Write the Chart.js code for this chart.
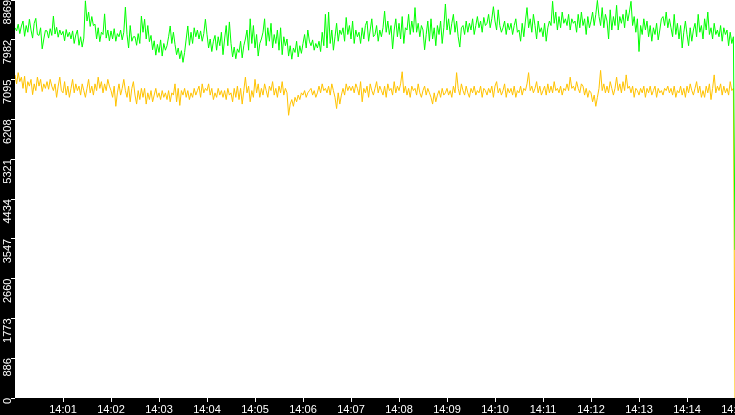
<!DOCTYPE html>
<html>
<head>
<meta charset="utf-8">
<script src="https://cdn.jsdelivr.net/npm/chart.js@4/dist/chart.umd.min.js"></script>
<style>
  html, body { margin: 0; padding: 0; background: #000; overflow: hidden; }
  #wrap { position: relative; width: 735px; height: 415px; }
  canvas { background: #000; }
</style>
</head>
<body>
<div id="wrap"><canvas id="c"></canvas></div>
<script>
// ---- data ----
const sampleSeconds = 2; // one sample every 2 s, starting 14:00:00
const xTickSeconds = [60,120,180,240,300,360,420,480,540,600,660,720,780,840,900];
const xTickLabels = ['14:01','14:02','14:03','14:04','14:05','14:06','14:07','14:08','14:09','14:10','14:11','14:12','14:13','14:14','14:15'];
const yTickValues = [0,886,1773,2660,3547,4434,5321,6208,7095,7982,8869];

const greenValues = [
8250,8180,8330,8120,8290, 8400,8060,8300,8150,8440, 8200,8020,8350,8460,8100, 8080,8250,7780,8000,8190,
8180,8020,8230,8080,8510, 8110,8260,8040,8200,8090, 8170,7960,8210,8050,8150, 8000,8180,7900,8090,8200,
7860,8050,7820,8020,8850, 8400,8600,8280,8500,8300, 8330,8000,8250,7940,8150, 8100,8560,8020,8200,7960,
8180,8000,8230,7950,8120, 8050,8200,7980,8150,8710, 8100,7800,8300,7950,8050, 8050,7860,8120,7900,8510,
8150,8440,8000,8300,7940, 8080,7760,7960,7640,7880, 7700,7980,7620,7900,7750, 7850,8050,8290,7900,8150,
7880,7650,7800,7560,7740, 7480,7700,8000,8290,7860, 8150,7900,8250,8050,8200, 8000,8180,7950,8120,8440,
8100,7800,8000,7720,7950, 8080,7750,8050,7850,8150, 7650,8000,8300,7850,8380, 7900,7600,7820,7560,7780,
7700,7950,7580,7850,8000, 8200,7750,8450,7900,8300, 7800,8100,7620,7900,8000, 8150,8450,7850,8250,7950,
8350,7800,8100,7900,8200, 7750,8250,7650,8050,7850, 8000,7620,7850,7550,7800, 7700,7950,7600,7850,7680,
7900,8100,7800,8200,7950, 7850,7980,7750,7900,7800, 7950,7720,8150,7850,8550, 7800,8600,7900,8200,7750,
8050,8350,7950,8200,8100, 8250,7950,8480,8100,8300, 8000,8400,7900,8200,8050, 8150,7900,8250,8000,8300,
8400,7950,8200,8450,8050, 8100,8300,7950,8200,8050, 8250,8620,8150,8400,8100, 8300,7780,8200,8450,8050,
8350,8000,8500,7900,8250, 8200,8550,8100,8400,8150, 8700,8150,8350,8050,8300, 8200,7760,8100,8400,7950,
8450,8000,8250,7850,8300, 8100,8400,7900,8250,8780, 8200,8450,8100,8350,8550, 8150,8400,8050,7820,8250,
8300,8100,8400,8150,8350, 8200,8450,8100,8300,8500, 8250,8400,8150,8480,8300, 8350,8550,8250,8450,8720,
8400,8200,8650,8300,8150, 8250,8400,8100,8350,8200, 8350,8100,8300,8450,8150, 8200,7950,8350,8050,8400,
8700,8250,8450,8150,8550, 8300,8000,8400,8150,8250, 8050,8350,7950,8250,8400, 8300,8840,8350,8600,8200,
8500,8250,8600,8350,8450, 8300,8550,8200,8450,8350, 8400,8150,8550,8250,8600, 8300,8450,8100,8500,8250,
8400,8600,8300,8550,8860, 8500,8300,8700,8250,8550, 8400,8000,8650,8200,8500, 8300,8750,8200,8500,8350,
8550,8250,8650,8400,8600, 8840,8300,8500,8150,8450, 7720,8300,8100,8450,8200, 8400,8050,8300,7950,8250,
8100,8350,7980,8200,8450, 8500,8300,8600,8250,8450, 8250,8050,8550,8100,8350, 8000,8300,7800,8150,8400,
8100,7850,8250,7950,8200, 8350,8050,8550,8150,8300, 8000,8450,8200,8600,8100, 8250,8000,8350,8100,8200,
8050,8300,7950,8250,8100, 8200,7850,8150,7900,8050,
3300
];

const yellowValues = [
7200,7000,7250,7050,7150, 6900,7170,6800,7050,6950, 7100,6760,7000,6850,7150, 6950,7100,6830,7000,6900,
7050,6880,7100,6950,6850, 7000,6700,6950,7150,6850, 6800,7050,6750,6950,6700, 6900,7100,6800,7000,6850,
6950,6750,7000,6850,6700, 6900,7100,6800,6950,6750, 7000,6850,7150,6900,7050, 6800,7000,6850,7100,6950,
6850,6700,6950,6500,6800, 7000,6750,6900,7100,6850, 6700,6950,6600,6900,7050, 6750,6550,6850,6650,6900,
6700,6900,6550,6800,6650, 6850,6600,6750,6900,6700, 6800,6650,6850,6700,6800, 6650,6850,6600,6800,6750,
7000,6600,6900,6520,6850, 6750,6900,6700,6850,6650, 6800,6700,6900,6750,6850, 6950,6700,7000,6800,6900,
6850,7000,6750,6900,6650, 6800,6700,6900,6750,6850, 6700,6850,6650,6900,6750, 6800,6600,6900,6700,6950,
6650,6900,6550,6850,7150, 6800,6950,6600,6850,6700, 7100,6800,7000,6700,6900, 6750,7000,6850,6700,6950,
6850,7050,6750,6900,6700, 6950,6800,7050,6750,6900, 6800,6300,6550,6650,6500, 6700,6600,6750,6650,6800,
6750,6850,6700,6800,6850, 6900,6750,6850,6700,6800, 6950,6800,7000,6850,6900, 6800,6950,6750,7000,6850,
6700,6450,6800,6550,6750, 6900,6750,7000,6850,6950, 6850,6950,6800,7000,6900, 6750,7050,6600,6900,6800,
6950,6700,7000,6850,6750, 6900,7050,6800,6950,6850, 6750,6950,6700,7000,6850, 6900,6750,7050,6800,6950,
6850,7000,7270,6800,6950, 6750,6900,6700,6950,6850, 6900,6750,7000,6800,6700, 6850,6950,6750,6900,6800,
6700,6550,6800,6600,6750, 6850,6700,6900,6750,6800, 6900,6750,6850,6700,6950, 6800,7250,6900,6750,7000,
6850,6750,6950,6800,6700, 6900,6800,6950,6750,6850, 6800,6950,6700,6900,6850, 6750,6900,6800,6950,6700,
6950,7050,6800,6900,6750, 6850,7000,6700,6900,6800, 6900,6750,6950,6700,6850, 6800,6950,6750,6900,6850,
7000,7250,6850,6950,6800, 6900,7050,6800,6950,6750, 6850,6950,6750,7000,6800, 6950,6800,7050,6850,6900,
6800,6950,6750,6900,6850, 7000,6850,7150,6900,6950, 6850,7050,6900,6800,7000, 6950,6750,6900,6700,6850,
6800,6600,6750,6500,6700, 6900,7300,6850,7000,6800, 6950,6800,7050,6900,6750, 6900,7150,6850,7000,6800,
7050,6850,7200,6900,6950, 6800,6950,6700,6900,6850, 6750,6900,6800,6950,6700, 6900,6800,6950,6750,6850,
6950,6700,6900,6800,6850, 6750,6900,6850,6950,6800, 6900,6750,6950,6700,6850, 6800,6950,6750,6900,6700,
6950,6800,7000,6850,6750, 6900,7050,6800,6950,6700, 6850,6700,6950,6800,7000, 6650,6900,7200,6800,6950,
6850,7000,6750,6950,6800, 6900,6750,7050,6850,6900,
0
];

// ---- build points through the x scale (seconds since 14:00) ----
const toPoints = (vals) => vals.map((v, i) => ({ x: i * sampleSeconds, y: v }));

const whiteArea = {
  id: 'whiteArea',
  beforeDraw(chart) {
    const { ctx, chartArea: a } = chart;
    ctx.save();
    ctx.fillStyle = '#000';
    ctx.fillRect(0, 0, chart.width, chart.height);
    ctx.fillStyle = '#fff';
    ctx.fillRect(a.left, a.top, a.right - a.left, a.bottom - a.top);
    ctx.restore();
  }
};

new Chart(document.getElementById('c'), {
  type: 'line',
  data: {
    datasets: [
      { label: 'green', data: toPoints(greenValues), borderColor: '#00ff00', borderWidth: 1, pointRadius: 0, tension: 0, order: 0 },
      { label: 'yellow', data: toPoints(yellowValues), borderColor: '#ffc300', borderWidth: 1, pointRadius: 0, tension: 0, order: 1 }
    ]
  },
  plugins: [whiteArea],
  options: {
    responsive: true,
    maintainAspectRatio: false,
    animation: false,
    layout: { padding: 0 },
    plugins: { legend: { display: false }, tooltip: { enabled: false }, title: { display: false } },
    elements: { line: { borderJoinStyle: 'miter' } },
    scales: {
      x: {
        type: 'linear',
        min: 0,
        max: 900,
        afterBuildTicks: (s) => { s.ticks = xTickSeconds.map(v => ({ value: v })); },
        afterFit: (s) => { s.height = 17; s.paddingLeft = 0; s.paddingRight = 0; },
        ticks: {
          autoSkip: false, maxRotation: 0, minRotation: 0, padding: 1,
          color: '#fff',
          font: { family: '"Liberation Sans", Arial, sans-serif', size: 11 },
          callback: (v, i) => xTickLabels[i]
        },
        grid: { drawOnChartArea: false, drawTicks: true, tickLength: 4, tickColor: '#fff', tickWidth: 1 },
        border: { display: false }
      },
      y: {
        min: 0,
        max: 8869,
        afterBuildTicks: (s) => { s.ticks = yTickValues.map(v => ({ value: v })); },
        afterFit: (s) => { s.width = 15; s.paddingTop = 0; s.paddingBottom = 0; },
        ticks: {
          autoSkip: false, minRotation: 90, maxRotation: 90, padding: 3,
          color: '#fff',
          font: { family: '"Liberation Sans", Arial, sans-serif', size: 11 },
          callback: (v) => String(v)
        },
        grid: { drawOnChartArea: false, drawTicks: true, tickLength: 4, tickColor: '#fff', tickWidth: 1 },
        border: { display: false }
      }
    }
  }
});
</script>
</body>
</html>
